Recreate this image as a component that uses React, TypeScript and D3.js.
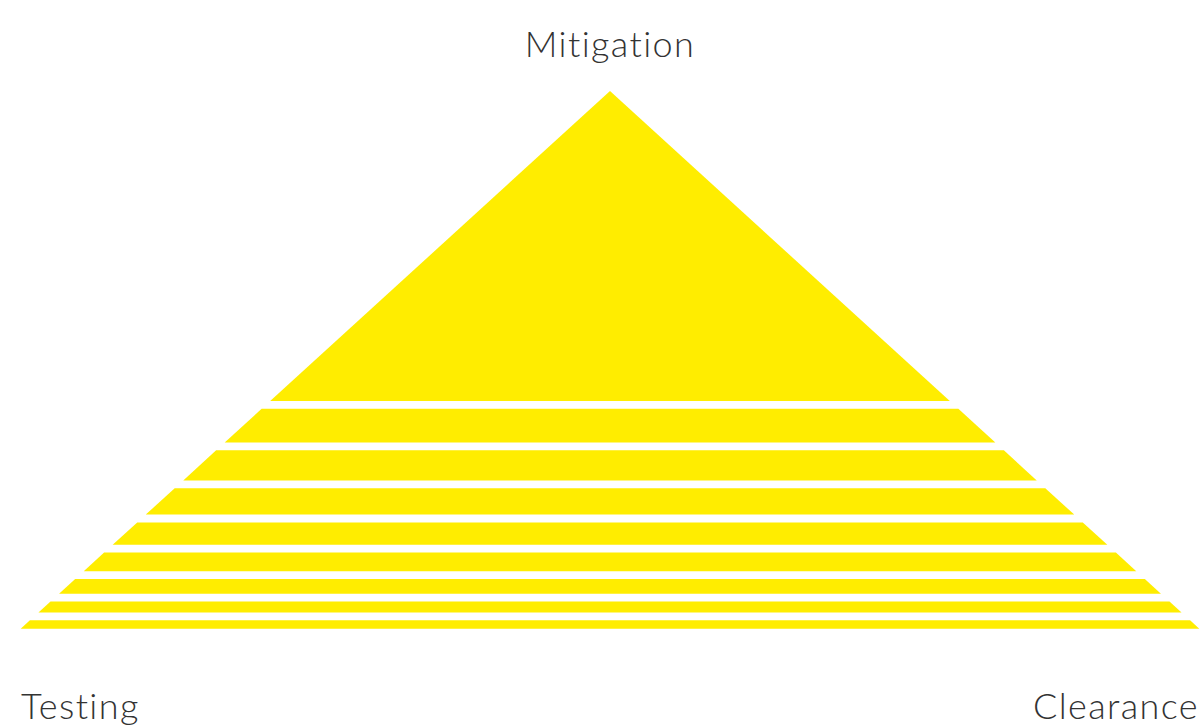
import React from "react";
import * as d3 from "d3";

const categories = ["Mitigation", "Level 2", "Level 3", "Level 4", "Level 5", "Level 6", "Level 7", "Level 8", "Level 9"];
const values = [310, 33.7, 30, 26.4, 22.4, 18.6, 14.7, 11, 8.4];
const cornerLabels = ["Mitigation", "Testing", "Clearance"];

const W = 1201;
const H = 728;
const GAP = 7.8;
const APEX_X = 610;
const TOP = 91;
const BOTTOM = 628.7;
const HALF_BASE = 589.3;
const FILL = "#ffed00";

export default function App() {
  const totalVal = d3.sum(values);
  const usable = BOTTOM - TOP - GAP * (values.length - 1);
  const y = d3.scaleLinear().domain([0, totalVal]).range([0, usable]);
  const half = d3.scaleLinear().domain([TOP, BOTTOM]).range([0, HALF_BASE]);

  let cum = 0;
  const slices = values.map((v, i) => {
    const y0 = TOP + y(cum) + i * GAP;
    cum += v;
    const y1 = TOP + y(cum) + i * GAP;
    const pts: [number, number][] = [
      [APEX_X - half(y0), y0],
      [APEX_X + half(y0), y0],
      [APEX_X + half(y1), y1],
      [APEX_X - half(y1), y1],
    ];
    return { key: categories[i], path: d3.line()(pts) + "Z" };
  });

  const font = {
    fontFamily: "Lato, 'Open Sans', sans-serif",
    fontWeight: 300,
    fontSize: 36,
    fill: "#333",
    style: { fontVariantLigatures: "none" as const, letterSpacing: "1.4px" },
  };

  return (
    <svg width={W} height={H} style={{ position: "absolute", left: 0, top: 0, background: "#fff" }}>
      {slices.map((s) => (
        <path key={s.key} d={s.path} fill={FILL} />
      ))}
      <text x={610} y={57} textAnchor="middle" {...font}>{cornerLabels[0]}</text>
      <text x={21} y={719} textAnchor="start" {...font}>{cornerLabels[1]}</text>
      <text x={1199} y={719} textAnchor="end" {...font}>{cornerLabels[2]}</text>
    </svg>
  );
}
